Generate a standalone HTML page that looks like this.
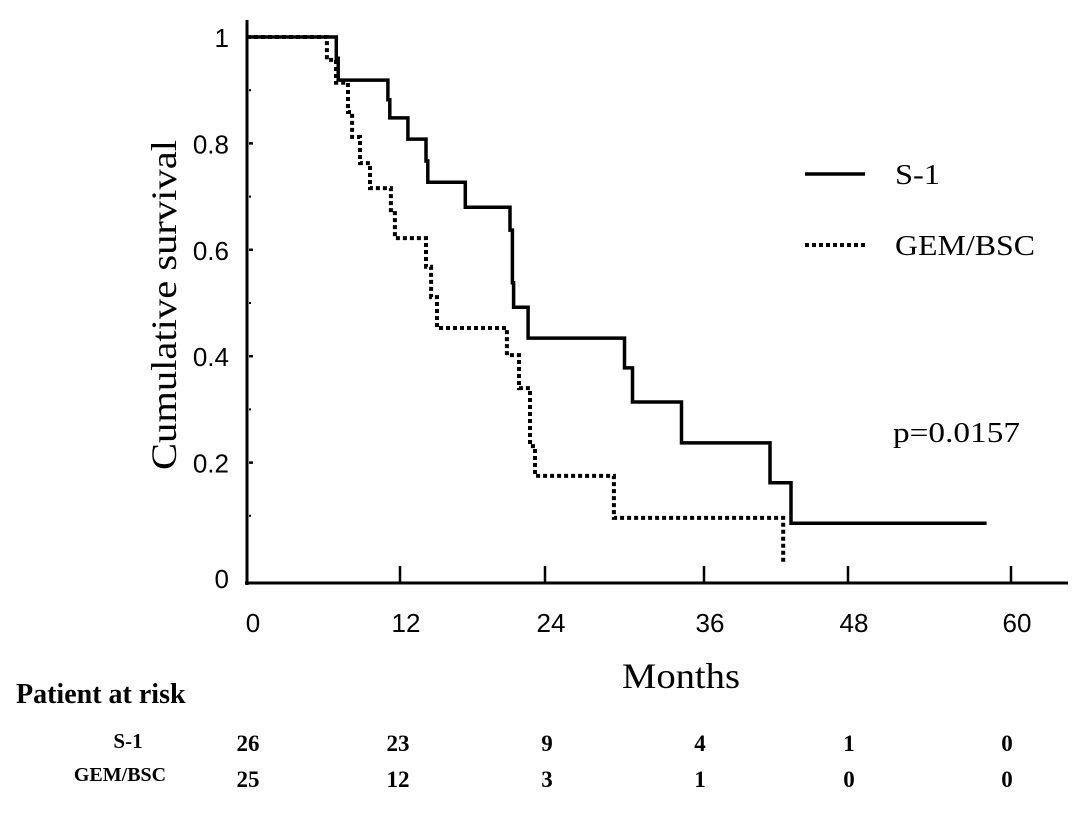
<!DOCTYPE html>
<html><head><meta charset="utf-8"><style>
body{margin:0;background:#fff;width:1087px;height:833px;overflow:hidden}
svg{display:block}
.ser{font-family:"Liberation Serif",serif;fill:#000}
.tick{font-family:"Liberation Sans",sans-serif;font-size:26px;fill:#000}
</style></head><body>
<svg id="chart" width="1087" height="833" viewBox="0 0 1087 833" xmlns="http://www.w3.org/2000/svg">
<g id="axes"></g>
<g id="curves"></g>
<g>
<line x1="805" y1="174" x2="865" y2="174" stroke="#000" stroke-width="3.5"/>
<text class="ser" x="895" y="184" font-size="29" textLength="45" lengthAdjust="spacingAndGlyphs">S-1</text>
<line x1="805" y1="245" x2="865" y2="245" stroke="#000" stroke-width="4" stroke-dasharray="4 3"/>
<text class="ser" x="895" y="255" font-size="29" textLength="140" lengthAdjust="spacingAndGlyphs">GEM/BSC</text>
</g>
<text class="ser" x="893" y="442" font-size="29" textLength="127" lengthAdjust="spacingAndGlyphs">p=0.0157</text>
<text class="ser" font-size="36" transform="translate(176,305) rotate(-90)" text-anchor="middle" textLength="330" lengthAdjust="spacingAndGlyphs">Cumulative survival</text>
<text class="ser" x="622" y="688" font-size="36" textLength="118" lengthAdjust="spacingAndGlyphs">Months</text>
<text class="ser" x="16" y="703" font-size="28" font-weight="bold">Patient at risk</text>
<text class="ser" x="128" y="748" font-size="21" font-weight="bold" text-anchor="middle">S-1</text>
<text class="ser" x="120" y="781" font-size="20" font-weight="bold" text-anchor="middle">GEM/BSC</text>
<g id="risk"></g>
</svg>
<script>
const xTicks=[0,12,24,36,48,60];
const yTicks=[0,0.2,0.4,0.6,0.8,1];
const yTickLabels=["0","0.2","0.4","0.6","0.8","1"];
const s1Times=[0,7.0,7.15,11.05,11.2,12.65,14.15,14.3,17.4,21.1,21.3,21.4,22.6,30.0,30.6,34.3,41.5,43.25,58.2];
const s1Surv=[1,0.96,0.919,0.882,0.848,0.808,0.767,0.727,0.68,0.637,0.538,0.492,0.434,0.378,0.314,0.237,0.162,0.086,0.086];
const gemTimes=[0,6.27,6.6,6.98,7.92,8.24,8.86,9.65,11.29,11.6,14.15,14.57,15.06,20.85,21.85,22.76,23.17,29.2,42.6];
const gemSurv=[1,0.962,0.953,0.914,0.859,0.812,0.763,0.716,0.669,0.622,0.568,0.511,0.453,0.402,0.34,0.231,0.175,0.096,0.011];
const riskS1=[26,23,9,4,1,0];
const riskGem=[25,12,3,1,0,0];
const riskX=[248,398,547,700,849,1007];
const NS="http://www.w3.org/2000/svg";
const tickPx=[247,400,545,704,848,1011];
function xs(t){let i=Math.min(Math.floor(t/12),4);return tickPx[i]+(t-i*12)/12*(tickPx[i+1]-tickPx[i]);}
function ys(v){return 569-532*v;}
function mk(tag,attrs,parent){const e=document.createElementNS(NS,tag);for(const k in attrs)e.setAttribute(k,attrs[k]);parent.appendChild(e);return e;}
const ax=document.getElementById('axes');
let e=mk('line',{x1:247,y1:20,x2:247,y2:585,stroke:'#000','stroke-width':3},ax);


e=mk('line',{x1:245,y1:583,x2:1068,y2:583,stroke:'#000','stroke-width':3},ax);


xTicks.forEach((t,i)=>{
 if(i>0){const tk=mk('line',{x1:xs(t),y1:566,x2:xs(t),y2:583,stroke:'#000','stroke-width':2.5},ax);
 
 }
 const tx=mk('text',{x:xs(t)+6,y:632,'text-anchor':'middle',class:'tick'},ax);tx.textContent=t;
 
 
});
yTicks.forEach((v,i)=>{
 if(i>0&&i<5){const tk=mk('line',{x1:249,y1:ys(v),x2:253,y2:ys(v),stroke:'#000','stroke-width':2.5},ax);
 
 }
 if(i<5){const d=mk('rect',{x:249,y:ys(v+0.1)-1,width:2,height:2,fill:'#000'},ax);
 
 }
 const tx=mk('text',{x:229,y:(i==0?588:ys(v)+10),'text-anchor':'end',class:'tick'},ax);tx.textContent=yTickLabels[i];
 
 
});
function stepPath(ts,vs){let d='M'+xs(ts[0])+','+ys(vs[0]);
 for(let i=1;i<ts.length;i++){d+=' H'+xs(ts[i]).toFixed(1)+' V'+ys(vs[i]).toFixed(1);}return d;}
const cv=document.getElementById('curves');
e=mk('path',{d:stepPath(gemTimes,gemSurv),fill:'none',stroke:'#000','stroke-width':4,'stroke-dasharray':'4 3'},cv);


e=mk('path',{d:stepPath(s1Times,s1Surv),fill:'none',stroke:'#000','stroke-width':3.5},cv);


const rk=document.getElementById('risk');
riskS1.forEach((n,i)=>{const t=mk('text',{x:riskX[i],y:751,'text-anchor':'middle',class:'ser','font-size':23,'font-weight':'bold'},rk);t.textContent=n;
 
 });
riskGem.forEach((n,i)=>{const t=mk('text',{x:riskX[i],y:787,'text-anchor':'middle',class:'ser','font-size':23,'font-weight':'bold'},rk);t.textContent=n;
 
 });
</script>
</body></html>
